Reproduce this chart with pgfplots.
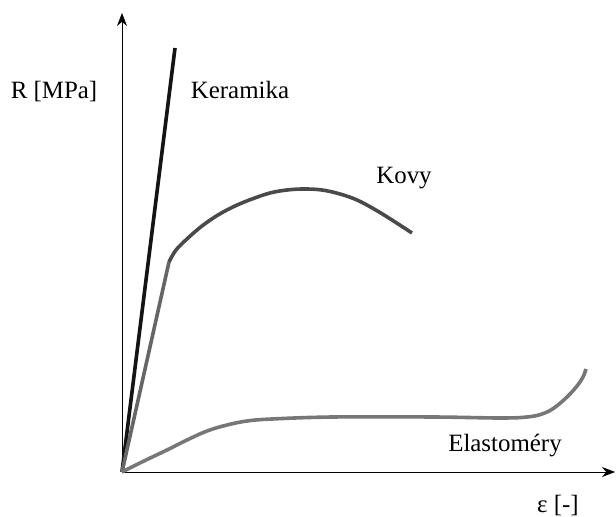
\documentclass[border=0pt]{standalone}
\usepackage{fontspec}
\setmainfont{Liberation Serif}
\newfontfamily\tnr{Liberation Serif}
\usepackage{pgfplots}
\pgfplotsset{compat=1.18}
\usetikzlibrary{arrows.meta}

\definecolor{kovy}{HTML}{4A4A4A}
\definecolor{kovylin}{HTML}{666666}
\definecolor{elast}{HTML}{777777}

\tikzset{lbl/.style={font=\tnr\fontsize{25}{30}\selectfont, anchor=base, inner sep=0pt}}

\begin{document}
\begin{tikzpicture}
\begin{axis}[
  scale only axis,
  width=493bp, height=459bp,
  xmin=0, xmax=493,
  ymin=0, ymax=459,
  axis lines=left,
  axis line style={line width=0.8pt, -{Stealth[length=13bp,width=10bp]}},
  xtick=\empty, ytick=\empty,
  clip=false,
]
% Keramika
\addplot[line width=3.6bp, color=black!92] coordinates {(0,0) (53,424)};
% Kovy
\addplot[line width=3.6bp, color=kovylin] coordinates {(0,0) (47,210)};
\addplot[line width=3.6bp, color=kovy, smooth, tension=0.6] coordinates {
  (47,210) (54,222) (66,234) (80,246) (96,257) (113,266) (130,273)
  (148,279) (165,282) (182,283) (200,282) (218,278) (235,272)
  (252,263) (270,252) (290,239)};
% Elastomery
\addplot[line width=3.6bp, color=elast, smooth, tension=0.6] coordinates {
  (0,0) (22,11) (45,22) (65,32) (85,41) (105,47) (125,51) (150,53)
  (211,55) (311,55) (378,54) (405,55) (420,58) (432,64) (445,75)
  (455,86) (461,95) (464,103)};

\node[lbl] at (axis cs:-68,373) {R [MPa]};
\node[lbl] at (axis cs:118,373) {Keramika};
\node[lbl] at (axis cs:282,288) {Kovy};
\node[lbl] at (axis cs:383,21) {Elastoméry};
\node[lbl] at (axis cs:436,-40) {ε [-]};

\coordinate (bl) at (axis cs:-122,-45);
\coordinate (tr) at (axis cs:494,472);
\end{axis}
\path (bl) rectangle (tr);
\end{tikzpicture}
\end{document}
